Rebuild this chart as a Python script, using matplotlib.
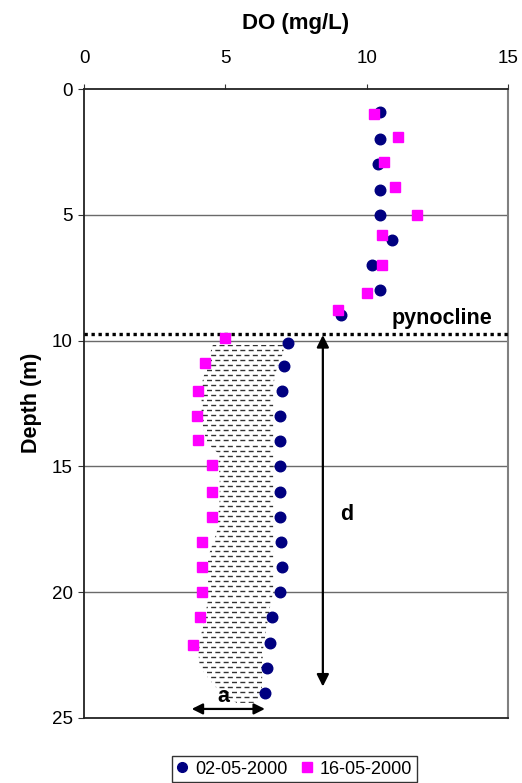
import numpy as np
import matplotlib
matplotlib.use("Agg")
import matplotlib.pyplot as plt
from matplotlib.patches import Polygon
from matplotlib.collections import LineCollection
from matplotlib.lines import Line2D

plt.rcParams['font.family'] = ['Liberation Sans', 'DejaVu Sans']

# ---- data ----
depth_0205 = [0.9, 2, 3, 4, 5, 6, 7, 8, 9, 10.1, 11, 12, 13, 14, 15, 16, 17, 18, 19, 20, 21, 22, 23, 24]
do_0205 = [10.47, 10.47, 10.4, 10.47, 10.47, 10.9, 10.2, 10.47, 9.1, 7.2, 7.07, 7.0, 6.93, 6.93, 6.93,
           6.93, 6.93, 6.97, 7.0, 6.93, 6.65, 6.58, 6.47, 6.4]
depth_1605 = [1.0, 1.9, 2.9, 3.9, 5.0, 5.8, 7.0, 8.1, 8.8, 9.9, 10.9, 12, 13, 13.95, 14.95, 16, 17,
              18, 19, 20, 21, 22.1]
do_1605 = [10.26, 11.1, 10.6, 11.0, 11.77, 10.54, 10.54, 10.0, 9.0, 4.99, 4.28, 4.02, 3.98, 4.04,
           4.52, 4.52, 4.52, 4.16, 4.16, 4.16, 4.1, 3.87]
label_0205 = "02-05-2000"
label_1605 = "16-05-2000"

x_ticks = [0, 5, 10, 15]
y_ticks = [0, 5, 10, 15, 20, 25]

pycnocline_depth = 9.72
# outline of the shaded anoxic/hypoxic zone (DO, depth)
shade_x = [4.56, 4.46, 4.2, 4.16, 4.16, 4.34, 4.74, 4.8, 4.8, 4.7, 4.39, 4.39, 4.2, 4.03, 4.1, 4.46,
           4.8, 5.4, 6.1, 6.29, 6.33, 6.46, 6.58, 6.69, 6.69, 6.69, 6.8, 7.04, 7.1]
shade_y = [10.17, 10.5, 11.57, 11.84, 13.15, 14.07, 14.47, 15.5, 16.3, 17.6, 18.6, 20.3, 21.4, 22.3,
           22.97, 23.5, 23.96, 24.4, 24.4, 24.0, 22.3, 21.4, 20.6, 20.0, 15.0, 11.8, 11.2, 10.5, 10.17]

d_arrow_x = 8.45
d_arrow_y = (9.78, 23.75)
a_arrow_y = 24.64
a_arrow_x = (3.81, 6.4)

# ---- figure ----
fig = plt.figure(figsize=(5.22, 7.83), dpi=100)
ax = fig.add_axes([84/522, 1-718/783, (508-84)/522, (718-89)/783])
ax.set_xlim(0, 15)
ax.set_ylim(25, 0)

ax.xaxis.set_ticks_position('top')
ax.xaxis.set_label_position('top')
ax.set_xticks(x_ticks)
ax.set_yticks(y_ticks)
ax.tick_params(axis='x', direction='out', length=3.5, pad=12, labelsize=13.5, color='#333333')
ax.tick_params(axis='y', direction='out', length=4, pad=4, labelsize=13.5, color='#333333')

for s in ['top', 'left', 'bottom']:
    ax.spines[s].set_color('#222222')
    ax.spines[s].set_linewidth(1.3)
ax.spines['right'].set_color('#808080')
ax.spines['right'].set_linewidth(1.5)

for yv in y_ticks[1:-1]:
    ax.axhline(yv, color='#6a6a6a', lw=1.0, zorder=1)

# shaded zone with dashed hatch
poly = Polygon(np.column_stack([shade_x, shade_y]), closed=True, facecolor='white',
               edgecolor='none', zorder=2)
ax.add_patch(poly)
rows = np.arange(min(shade_y), max(shade_y) + 0.2, 0.2)
segs = [[(3.0, r), (8.0, r)] for r in rows]
lc1 = LineCollection(segs[0::2], colors='#333333', linewidths=1.0,
                     linestyles=[(0, (3.6, 2.4))], zorder=3)
lc2 = LineCollection(segs[1::2], colors='#333333', linewidths=1.0,
                     linestyles=[(3.0, (3.6, 2.4))], zorder=3)
for lc in (lc1, lc2):
    ax.add_collection(lc)
    lc.set_clip_path(poly)

# pycnocline
ax.plot([0, 15], [pycnocline_depth] * 2, color='black', lw=2.4, ls=(0, (1, 1.1)),
        zorder=4, clip_on=False, solid_capstyle='butt', dash_capstyle='butt')
ax.text(14.46, 9.33, 'pynocline', ha='right', va='baseline', fontsize=15.5, fontweight='bold')

# data series
ax.plot(do_0205, depth_0205, ls='none', marker='o', ms=7.6, color='#000080', zorder=5)
ax.plot(do_1605, depth_1605, ls='none', marker='s', ms=7.2, color='#FF00FF', zorder=6)

# arrows
ax.annotate('', xy=(d_arrow_x, d_arrow_y[0]), xytext=(d_arrow_x, d_arrow_y[1]),
            arrowprops=dict(arrowstyle='<|-|>', color='black', lw=1.6, mutation_scale=18,
                            shrinkA=0, shrinkB=0), zorder=7)
ax.text(9.06, 17.13, 'd', ha='left', va='baseline', fontsize=15.5, fontweight='bold')
ax.annotate('', xy=(a_arrow_x[0], a_arrow_y), xytext=(a_arrow_x[1], a_arrow_y),
            arrowprops=dict(arrowstyle='<|-|>', color='black', lw=1.6, mutation_scale=16,
                            shrinkA=0, shrinkB=0), zorder=7)
ax.text(4.92, 24.36, 'a', ha='center', va='baseline', fontsize=15.5, fontweight='bold')

# titles
fig.text(296/522, 1-23/783, 'DO (mg/L)', ha='center', va='center', fontsize=16, fontweight='bold')
fig.text(32/522, 1-403/783, 'Depth (m)', ha='center', va='center', rotation=90,
         fontsize=15.5, fontweight='bold')

# legend
handles = [Line2D([], [], ls='none', marker='o', ms=7, color='#000080', label=label_0205),
           Line2D([], [], ls='none', marker='s', ms=7, color='#FF00FF', label=label_1605)]
leg = fig.legend(handles=handles, loc='center', bbox_to_anchor=(294.5/522, 1-769/783), ncol=2,
                 frameon=True, fancybox=False, fontsize=13, handlelength=0.6, handletextpad=0.4,
                 columnspacing=0.8, borderpad=0.25, edgecolor='black', borderaxespad=0)
leg.get_frame().set_linewidth(1.0)

fig.savefig('out.png', dpi=100)
